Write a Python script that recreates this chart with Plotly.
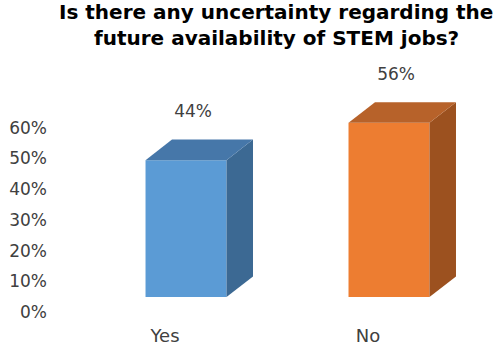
import plotly.graph_objects as go

# Survey answers and shares (%)
categories = ["Yes", "No"]
shares = [44, 56]
tick_values = [0, 10, 20, 30, 40, 50, 60]
title_lines = ["Is there any uncertainty regarding the",
               "future availability of STEM jobs?"]

front_colors = ["#5B9BD5", "#ED7D31"]
top_colors = ["#4677A9", "#B7622A"]
side_colors = ["#3C6993", "#9C511F"]

# Bar geometry in axis units
BAR_WIDTH = 0.399
BAR_OFFSET = -0.096
DEPTH_X = 0.1305
DEPTH_Y = 6.6

xs = list(range(len(categories)))
fig = go.Figure()

# Front faces
fig.add_trace(go.Bar(
    x=xs, y=shares, width=BAR_WIDTH, offset=BAR_OFFSET,
    marker=dict(color=front_colors, line=dict(width=0)),
    hoverinfo="skip", showlegend=False,
))

# Top and side faces giving the extruded look
for i, v in enumerate(shares):
    xl = xs[i] + BAR_OFFSET
    xr = xl + BAR_WIDTH
    fig.add_trace(go.Scatter(
        x=[xr, xr + DEPTH_X, xr + DEPTH_X, xr, xr],
        y=[0, DEPTH_Y, v + DEPTH_Y, v, 0],
        fill="toself", fillcolor=side_colors[i], mode="lines",
        line=dict(width=0), hoverinfo="skip", showlegend=False,
    ))
    fig.add_trace(go.Scatter(
        x=[xl, xl + DEPTH_X, xr + DEPTH_X, xr, xl],
        y=[v, v + DEPTH_Y, v + DEPTH_Y, v, v],
        fill="toself", fillcolor=top_colors[i], mode="lines",
        line=dict(width=0), hoverinfo="skip", showlegend=False,
    ))

# Value labels above each bar
fig.add_trace(go.Scatter(
    x=[x + BAR_OFFSET + BAR_WIDTH / 2 + 0.035 for x in xs],
    y=[v + DEPTH_Y + 8.5 for v in shares],
    text=[f"{v}%" for v in shares], mode="text",
    textfont=dict(family="DejaVu Sans", size=17, color="#404040"),
    hoverinfo="skip", showlegend=False,
))

# Scale used for the percentage tick labels
fig.add_trace(go.Scatter(x=[0], y=[0], yaxis="y2", mode="markers",
                         marker=dict(opacity=0), hoverinfo="skip",
                         showlegend=False))

# Two-line bold title
for line, y_px in zip(title_lines, [12, 37.5]):
    fig.add_annotation(
        text=f"<b>{line}</b>",
        font=dict(family="DejaVu Sans", size=20, color="#000000"),
        xref="paper", yref="paper", x=(276 - 48) / 445, y=(320 - y_px) / 260,
        xanchor="center", yanchor="middle", showarrow=False,
    )

fig.update_layout(
    width=503, height=345,
    margin=dict(l=48, r=10, t=60, b=25, autoexpand=False),
    paper_bgcolor="white", plot_bgcolor="white",
    xaxis=dict(
        range=[-0.5764, 1.6158], tickvals=xs, ticktext=categories,
        showgrid=False, zeroline=False, showline=False, ticks="",
        automargin=False, ticklabelstandoff=3,
        tickfont=dict(family="DejaVu Sans", size=18, color="#404040"),
    ),
    yaxis=dict(range=[-7.4, 76.2], visible=False, automargin=False),
    yaxis2=dict(
        overlaying="y", side="left", anchor="x", type="linear",
        range=[-2.61, 82.1], tickvals=tick_values,
        ticktext=[f"{v}%" for v in tick_values],
        showgrid=False, zeroline=False, showline=False, ticks="",
        automargin=False,
        tickfont=dict(family="DejaVu Sans", size=17, color="#404040"),
    ),
)

fig.write_html("out.html")
